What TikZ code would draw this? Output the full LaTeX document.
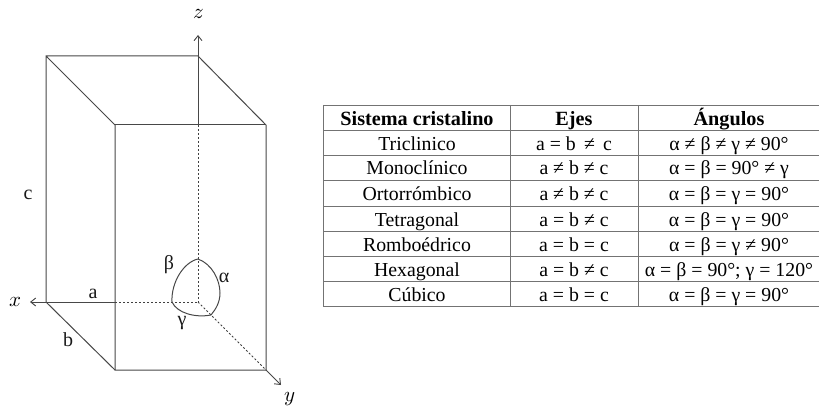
\documentclass[tikz,border=0pt]{standalone}
\usepackage{fontspec}
\setmainfont{Liberation Serif}
\usepackage{unicode-math}
\setmathfont{Latin Modern Math}
\tikzset{
 edge/.style={draw=black!72,line width=1pt},
 hid/.style={draw=black!75,line width=.8pt,dash pattern=on 2pt off 2pt},
 ax/.style={draw=black!72,line width=.9pt,-{Straight Barb[length=5pt,width=8pt]}},
 arc/.style={draw=black!72,line width=1pt},
 grid/.style={draw=black!55,line width=.9pt},
 lab/.style={inner sep=0pt,font=\fontsize{20}{22}\selectfont,text=black!90},
 axl/.style={inner sep=0pt,font=\fontsize{21}{22}\selectfont},
 cell/.style={inner sep=0pt,anchor=base,font=\fontsize{19.8}{22}\selectfont,text=black},
 head/.style={cell,font=\fontsize{20.2}{22}\selectfont\bfseries}
}
\usetikzlibrary{arrows.meta}
\begin{document}
\begin{tikzpicture}[x=1pt,y=-1pt]
\useasboundingbox (0,0) rectangle (819,409);
\coordinate (O) at (198,302);
\coordinate (BTL) at (46,56);
\coordinate (BTR) at (198,56);
\coordinate (FTL) at (115,125);
\coordinate (FTR) at (266,125);
\coordinate (BBL) at (46,302);
\coordinate (FBL) at (115,370);
\coordinate (FBR) at (266,370);
\coordinate (FTO) at (198,125);
\coordinate (XT) at (30,302);
\coordinate (YT) at (281,385);
\coordinate (ZT) at (198,35);
\coordinate (AT) at (198,259);
\coordinate (AL) at (172,302);
\coordinate (AY) at (211,315);
% hidden
\draw[hid] (FTO) -- (O);
\draw[hid] (FBL |- O) -- (O);
\draw[hid] (O) -- (FBR);
% edges
\draw[edge] (BBL) -- (BTL) -- (BTR) -- (FTR) -- (FBR) -- (FBL) -- (FTL) -- (BTL);
\draw[edge] (FTL) -- (FTR);
\draw[edge] (BBL) -- (FBL);
\draw[edge] (BBL) -- (FBL |- O);
\draw[edge] (BTR) -- (FTO);
% axes
\draw[ax] (BTR) -- (ZT);
\draw[ax] (BBL) -- (XT);
\draw[ax] (FBR) -- (YT);
% arcs
\draw[arc] (AT) .. controls (184,262) and (171,282) .. (AL);
\draw[arc] (AT) .. controls (212,264) and (220,280) .. (220,293) .. controls (220,302) and (216,309) .. (AY);
\draw[arc] (AL) .. controls (177,313) and (195,318) .. (AY);
% labels
\node[axl] (zl) at (199,14) {$z$};
\node[axl] (xl) at (16,302) {$x$};
\node[axl] (yl) at (290,399) {$y$};
\node[lab] (cl) at (28,195) {c};
\node[lab] (al) at (93,294) {a};
\node[lab] (bl) at (68,340) {b};
\node[lab] (be) at (169,265) {β};
\node[lab] (alp) at (224,278) {α};
\node[lab] (ga) at (182,323) {γ};
% table
\draw[grid] (323,105) -- (819,105);
\foreach \yy in {130,155,180,206,231,256,281,306} \draw[grid] (323,\yy) -- (819,\yy);
\foreach \xx in {323,510,638} \draw[grid] (\xx,105) -- (\xx,306);
\foreach \yy/\c/\d/\e [count=\i] in {
 150/Triclinico/{a = b \,≠\, c}/{α ≠ β ≠ γ ≠ 90°},
 175/Monoclínico/{a ≠ b ≠ c}/{α = β = 90° ≠ γ},
 200/Ortorrómbico/{a ≠ b ≠ c}/{α = β = γ = 90°},
 226/Tetragonal/{a = b ≠ c}/{α = β = γ = 90°},
 251/Romboédrico/{a = b = c}/{α = β = γ ≠ 90°},
 276/Hexagonal/{a = b ≠ c}/{α = β = 90°; γ = 120°},
 301/Cúbico/{a = b = c}/{α = β = γ = 90°}} {
 \node[cell] (s\i) at (417,\yy) {\c};
 \node[cell] (e\i) at (574,\yy) {\d};
 \node[cell] (g\i) at (729,\yy) {\e};
}
\node[head] (h1) at (417,125) {Sistema cristalino};
\node[head] (h2) at (574,125) {Ejes};
\node[head] (h3) at (729,125) {Ángulos};
\end{tikzpicture}
\end{document}
